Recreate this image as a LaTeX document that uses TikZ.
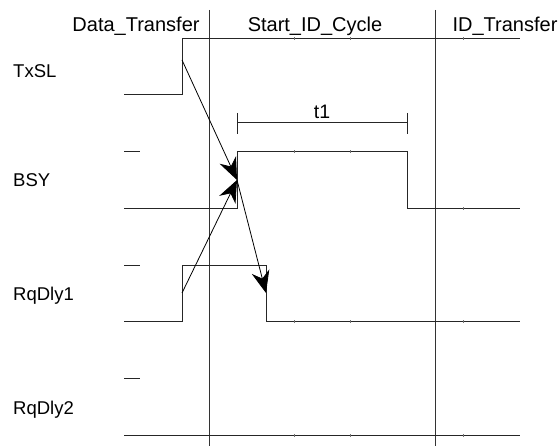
\documentclass[tikz,border=0pt]{standalone}
\usepackage{fontspec}
\setmainfont{Liberation Sans}
\usetikzlibrary{arrows.meta, positioning, calc}

\begin{document}
\begin{tikzpicture}[
  x=1pt, y=-1pt,
  wave/.style={draw=black!85, line width=1pt},
  border/.style={draw=black!80, line width=1pt},
  phase/.style={font=\fontsize{20}{24}\selectfont, anchor=base, inner sep=0pt},
  signame/.style={font=\fontsize{18.5}{22}\selectfont, anchor=base west, inner sep=0pt},
  arrow/.style={-{Stealth[length=22pt, width=18pt]}, line width=0.8pt},
  gridtick/.style={draw=black!55, line width=0.8pt}
]
\useasboundingbox (0,0) rectangle (560,446);

\node (dt) [phase] at (136,32) {Data\_Transfer};
\node (sc) [phase] at (315,32) {Start\_ID\_Cycle};
\node (it) [phase] at (505,32) {ID\_Transfer};

\node (txsl) [signame] at (13,78) {TxSL};
\node (bsy) [signame] at (13,187) {BSY};
\node (rq1) [signame] at (13,301) {RqDly1};
\node (rq2) [signame] at (13,415) {RqDly2};

% phase borders
\draw [border] (209,10) -- (209,446);
\draw [border] (435,10) -- (435,446);

% waveforms
\draw [wave] (124,95) -- (182,95) -- (182,39) -- (520,39);
\draw [wave] (124,152) -- (140,152);
\draw [wave] (124,209) -- (237,209) -- (237,152) -- (407,152) -- (407,209) -- (520,209);
\draw [wave] (124,266) -- (140,266);
\draw [wave] (124,322) -- (182,322) -- (182,266) -- (266,266) -- (266,322) -- (520,322);
\draw [wave] (124,379) -- (140,379);
\draw [wave] (124,436) -- (520,436);

\foreach \x in {294,350,463}
  \foreach \y in {39,322,436}
    \draw [gridtick] (\x,\y-1.5) -- (\x,\y+1.5);
\foreach \x/\y in {294/152,350/152,463/209}
  \draw [gridtick] (\x,\y-1.5) -- (\x,\y+1.5);

% t1
\draw [wave] (237,113) -- (237,134);
\draw [wave] (407,113) -- (407,134);
\draw [wave] (237,123) -- node[above=4pt, font=\fontsize{19.5}{22}\selectfont, inner sep=0pt] (t1) {t1} (407,123);

% causality
\coordinate (txsl-rise) at (182,60);
\coordinate (bsy-rise) at (237,180);
\coordinate (rq1-rise) at (182,293);
\coordinate (rq1-fall) at (266,293);

\draw [arrow] (txsl-rise) -- (bsy-rise);
\draw [arrow] (rq1-rise) -- (bsy-rise);
\draw [arrow] (bsy-rise) -- (rq1-fall);

\end{tikzpicture}
\end{document}
